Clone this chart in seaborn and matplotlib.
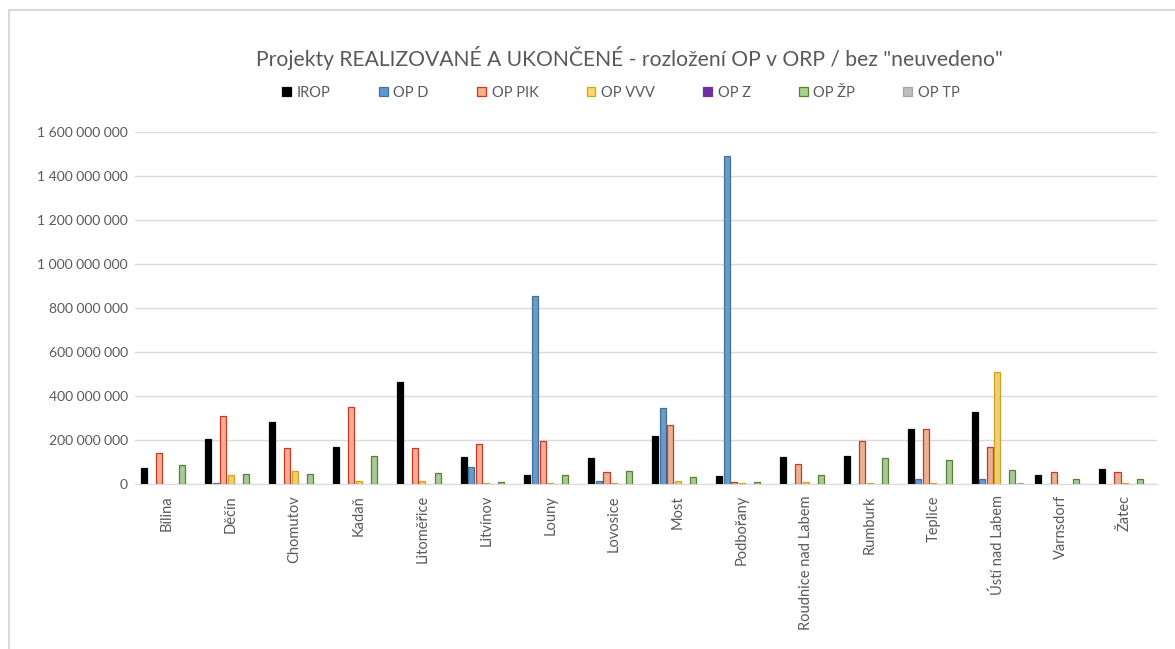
import pandas as pd
import matplotlib.pyplot as plt
import seaborn as sns
from matplotlib.patches import Patch
from matplotlib.lines import Line2D
from matplotlib.ticker import FuncFormatter

# ORP names (x axis)
orp = ['Bílina', 'Děčín', 'Chomutov', 'Kadaň', 'Litoměřice', 'Litvínov', 'Louny',
       'Lovosice', 'Most', 'Podbořany', 'Roudnice nad Labem', 'Rumburk', 'Teplice',
       'Ústí nad Labem', 'Varnsdorf', 'Žatec']

# values per OP (CZK)
irop = [71e6, 204e6, 283e6, 170e6, 463e6, 122e6, 39e6, 117e6, 220e6, 35e6,
        125e6, 129e6, 250e6, 328e6, 39e6, 66e6]
op_d = [0, 3e6, 0, 0, 0, 77e6, 855e6, 12e6, 346e6, 1490e6,
        0, 0, 24e6, 21e6, 0, 0]
op_pik = [143e6, 308e6, 165e6, 350e6, 165e6, 180e6, 194e6, 53e6, 268e6, 7e6,
          90e6, 194e6, 251e6, 170e6, 53e6, 53e6]
op_vvv = [0, 42e6, 57e6, 12e6, 12e6, 4e6, 3e6, 3e6, 12e6, 3e6,
          7e6, 3e6, 3e6, 511e6, 0, 3e6]
op_z = [0] * 16
op_zp = [87e6, 45e6, 45e6, 129e6, 48e6, 7e6, 39e6, 57e6, 30e6, 7e6,
         42e6, 117e6, 111e6, 65e6, 24e6, 24e6]
op_tp = [0, 0, 0, 0, 0, 0, 0, 0, 0, 0, 0, 0, 0, 3e6, 0, 0]

series_names = ['IROP', 'OP D', 'OP PIK', 'OP VVV', 'OP Z', 'OP ŽP', 'OP TP']
series_values = [irop, op_d, op_pik, op_vvv, op_z, op_zp, op_tp]

fill_colors = {'IROP': '#000000', 'OP D': '#5B9BD5', 'OP PIK': '#F4B183',
               'OP VVV': '#FFD966', 'OP Z': '#7030A0', 'OP ŽP': '#A9D18E',
               'OP TP': '#BFBFBF'}
edge_colors = {'IROP': '#000000', 'OP D': '#41719C', 'OP PIK': '#D9302A',
               'OP VVV': '#D4A21A', 'OP Z': '#7030A0', 'OP ŽP': '#548235',
               'OP TP': '#A5A5A5'}

rows = []
for name, vals in zip(series_names, series_values):
    for city, v in zip(orp, vals):
        rows.append({'ORP': city, 'OP': name, 'value': v})
df = pd.DataFrame(rows)

sns.set_style('white')
plt.rcParams['font.family'] = ['Lato', 'DejaVu Sans']
text_color = '#595959'

W, H = 1175, 649
fig = plt.figure(figsize=(W / 100, H / 100), dpi=100)
ax = fig.add_axes([135 / W, 1 - 484 / H, (1157 - 135) / W, (484 - 132) / H])

sns.barplot(data=df, x='ORP', y='value', hue='OP', order=orp, hue_order=series_names,
            palette=fill_colors, width=0.83, gap=0.2, errorbar=None, legend=False, ax=ax)

for name, cont in zip(series_names, ax.containers):
    for bar in cont:
        if bar.get_height() > 0:
            bar.set_edgecolor(edge_colors[name])
            bar.set_linewidth(0.9)
        else:
            bar.set_visible(False)

ax.set_ylim(0, 1.6e9)
ax.set_yticks([i * 2e8 for i in range(9)])
ax.yaxis.set_major_formatter(FuncFormatter(lambda v, p: f"{int(v):,}".replace(',', ' ')))
ax.grid(axis='y', color='#D9D9D9', linewidth=1)
ax.set_axisbelow(True)
for s in ['top', 'right', 'left']:
    ax.spines[s].set_visible(False)
ax.spines['bottom'].set_color('#D9D9D9')
ax.tick_params(axis='y', length=0, pad=5, labelsize=10, labelcolor=text_color)
ax.tick_params(axis='x', length=0, pad=8, labelsize=10.5, labelcolor=text_color, rotation=90)
ax.set_xlabel('')
ax.set_ylabel('')

fig.text(629 / W, 1 - 58 / H,
         'Projekty REALIZOVANÉ A UKONČENÉ - rozložení OP v ORP / bez "neuvedeno"',
         ha='center', va='center', fontsize=15.2, color=text_color)

handles = [Patch(facecolor=fill_colors[n], edgecolor=edge_colors[n], linewidth=0.9, label=n)
           for n in series_names]
fig.legend(handles=handles, loc='center', bbox_to_anchor=(621 / W, 1 - 93 / H), ncol=7,
           frameon=False, fontsize=10.5, labelcolor=text_color, handlelength=0.6,
           handleheight=0.6, handletextpad=0.4, columnspacing=3.3)

# chart area border
fig.add_artist(Line2D([8.5 / W, 1.0], [1 - 9.5 / H, 1 - 9.5 / H], color='#D9D9D9', linewidth=1.5))
fig.add_artist(Line2D([8.5 / W, 8.5 / W], [0, 1 - 9.5 / H], color='#D9D9D9', linewidth=1.5))

fig.savefig('out.png', dpi=100)
